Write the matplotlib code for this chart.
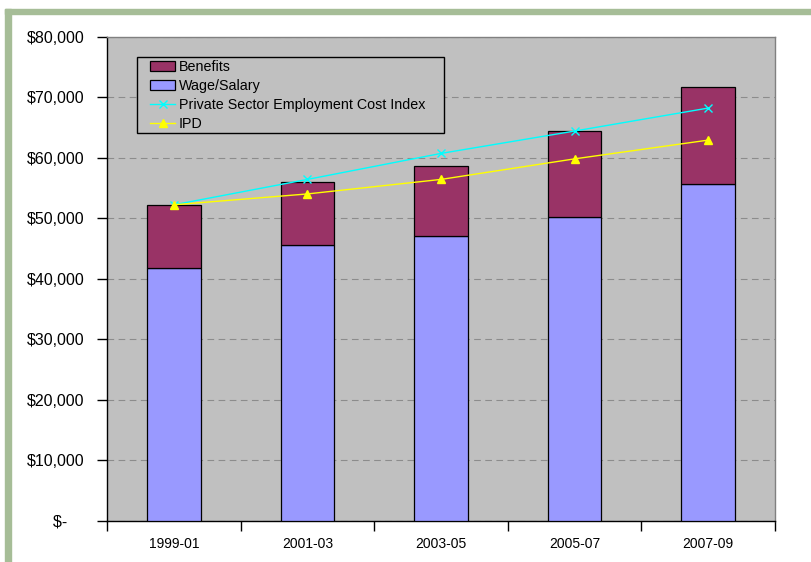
import matplotlib
matplotlib.use('Agg')
import numpy as np
import matplotlib.pyplot as plt
from matplotlib.patches import Rectangle
from matplotlib.ticker import FixedLocator, FuncFormatter

# --- data ---
periods = ["1999-01", "2001-03", "2003-05", "2005-07", "2007-09"]
wage_salary = [41800, 45500, 47000, 50200, 55600]
benefits = [10400, 10400, 11700, 14200, 16000]
eci = [52200, 56400, 60700, 64400, 68200]
ipd = [52200, 54000, 56400, 59800, 62900]

plt.rcParams['font.family'] = ['Liberation Sans', 'DejaVu Sans']
plt.rcParams['font.size'] = 10

W, H = 812, 562
fig = plt.figure(figsize=(W / 100, H / 100), dpi=100)
fig.patch.set_facecolor('white')

# green frame, top and left
green = '#A6BD97'
fig.patches.append(Rectangle((5 / W, 1 - 14 / H), 1 - 5 / W, 5 / H,
                             transform=fig.transFigure, color=green, zorder=0))
fig.patches.append(Rectangle((5 / W, 0), 6 / W, 1 - 9 / H,
                             transform=fig.transFigure, color=green, zorder=0))

ax = fig.add_axes([107 / W, 1 - 520.5 / H, 668 / W, 483.8 / H])
ax.set_facecolor('#C0C0C0')

x = np.arange(len(periods))
bw = 0.40
bars_w = ax.bar(x, wage_salary, bw, color='#9999FF', edgecolor='black',
                linewidth=0.9, zorder=3)
bars_b = ax.bar(x, benefits, bw, bottom=wage_salary, color='#993366',
                edgecolor='black', linewidth=0.9, zorder=3)
line_eci, = ax.plot(x, eci, color='#00FFFF', marker='x', markersize=6,
                    linewidth=1, zorder=4)
line_ipd, = ax.plot(x, ipd, color='#FFFF00', marker='^', markersize=5.5,
                    linewidth=1, zorder=4)

ax.set_xlim(-0.5, len(periods) - 0.5)
ax.set_ylim(0, 80000)

# y axis
ax.yaxis.set_major_locator(FixedLocator(np.arange(0, 80001, 10000)))
ax.yaxis.set_major_formatter(FuncFormatter(
    lambda v, p: '$-    ' if v == 0 else f'${v:,.0f}'))
ax.tick_params(axis='y', direction='out', length=7, width=1, pad=9,
               labelsize=11.5)
ax.grid(axis='y', color='#8C8C8C', linestyle=(0, (6, 4)), linewidth=0.8,
        zorder=1)

# x axis: labels at centers, ticks at category boundaries
ax.set_xticks(x)
ax.set_xticklabels(periods)
ax.set_xticks(np.arange(-0.5, len(periods), 1), minor=True)
ax.tick_params(axis='x', which='major', length=0, pad=12, labelsize=10)
ax.tick_params(axis='x', which='minor', direction='out', length=7, width=1)

for s in ['left', 'bottom']:
    ax.spines[s].set_color('black')
    ax.spines[s].set_linewidth(1)
for s in ['top', 'right']:
    ax.spines[s].set_color('#808080')
    ax.spines[s].set_linewidth(1)

# legend box (frame drawn separately, Excel style)
frame = Rectangle((137 / W, 1 - 133 / H), 307 / W, 76 / H,
                  transform=fig.transFigure, facecolor='#C0C0C0',
                  edgecolor='black', linewidth=1, zorder=2)
fig.patches.append(frame)
fig.legend([bars_b, bars_w, line_eci, line_ipd],
           ['Benefits', 'Wage/Salary', 'Private Sector Employment Cost Index',
            'IPD'],
           loc='upper left', bbox_to_anchor=(150 / W, 1 - 60 / H),
           frameon=False, borderaxespad=0, borderpad=0,
           fontsize=10.3, handlelength=1.75, handletextpad=0.25,
           labelspacing=0.34)

fig.savefig('out.png', dpi=100)
